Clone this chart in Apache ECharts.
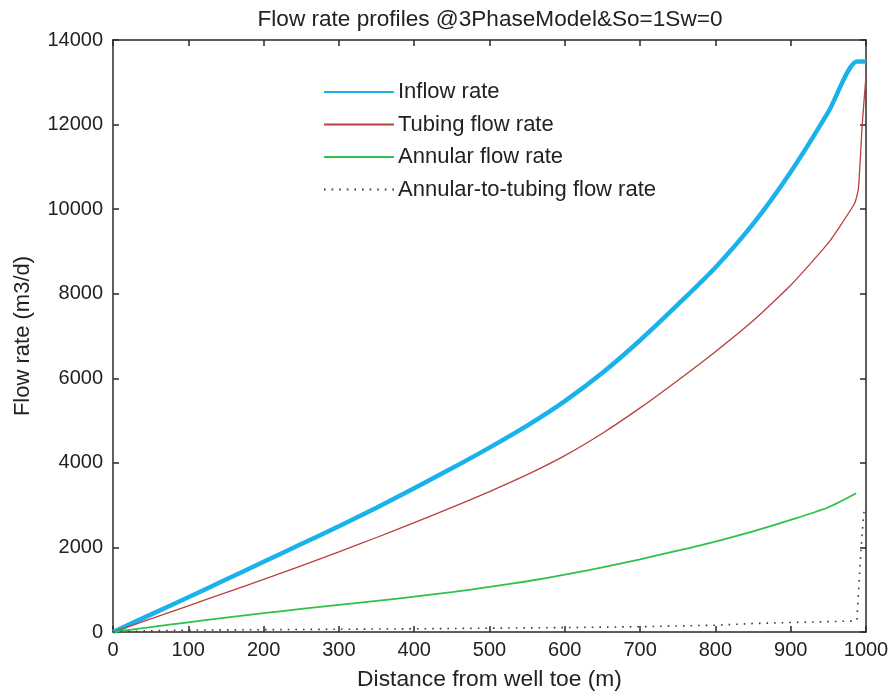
<!DOCTYPE html>
<html>
<head>
<meta charset="utf-8">
<script src="https://cdn.jsdelivr.net/npm/echarts@6/dist/echarts.min.js"></script>
<style>
  html, body { margin: 0; padding: 0; background: #ffffff; }
  #chart { width: 894px; height: 697px; }
</style>
</head>
<body>
<div id="chart"></div>
<script>
// Distance along the well (m) and flow rates (m3/d) for each profile
const inflowDist = [0, 50, 100, 150, 200, 250, 300, 350, 400, 450, 500, 550, 600, 650, 700, 750, 800, 850, 900, 950, 988, 1000];
const inflowRate = [0, 410, 820, 1240, 1660, 2080, 2500, 2940, 3400, 3870, 4360, 4880, 5460, 6130, 6900, 7740, 8620, 9650, 10880, 12300, 13490, 13490];

const tubingDist = [0, 50, 100, 150, 200, 250, 300, 350, 400, 450, 500, 550, 600, 650, 700, 750, 800, 850, 900, 950, 985, 990, 995, 1000];
const tubingRate = [0, 310, 620, 930, 1245, 1565, 1895, 2235, 2585, 2945, 3320, 3720, 4170, 4700, 5300, 5950, 6630, 7360, 8200, 9200, 10140, 10500, 12000, 13150];

const annularDist = [0, 50, 100, 150, 200, 250, 300, 350, 400, 450, 500, 550, 600, 650, 700, 750, 800, 850, 900, 950, 987];
const annularRate = [0, 115, 230, 340, 445, 545, 640, 735, 835, 945, 1065, 1200, 1355, 1530, 1720, 1925, 2140, 2380, 2650, 2950, 3280];

const transferDist = [0, 50, 100, 200, 300, 400, 500, 600, 700, 800, 850, 900, 950, 985, 988, 990, 992, 994, 996, 998];
const transferRate = [0, 30, 45, 55, 65, 75, 90, 105, 125, 160, 200, 225, 245, 260, 280, 950, 1550, 2100, 2580, 2960];

const xTicks = { min: 0, max: 1000, interval: 100 };
const yTicks = { min: 0, max: 14000, interval: 2000 };

const seriesNames = ['Inflow rate', 'Tubing flow rate', 'Annular flow rate', 'Annular-to-tubing flow rate'];

function pairs(xs, ys) {
  return xs.map((x, i) => [x, ys[i]]);
}

const FONT = '"Liberation Sans", Arial, sans-serif';
const TEXT = '#222222';
const AXIS = '#2a2a2a';

const chart = echarts.init(document.getElementById('chart'));

const baseAxis = {
  type: 'value',
  axisLine: { show: true, onZero: false, lineStyle: { color: AXIS, width: 1.5 } },
  axisTick: { show: true, inside: true, length: 6, lineStyle: { color: AXIS, width: 1.5 } },
  splitLine: { show: false },
  axisLabel: { color: TEXT, fontFamily: FONT, fontSize: 20, formatter: v => String(v) }
};

chart.setOption({
  backgroundColor: '#ffffff',
  animation: false,
  title: {
    text: 'Flow rate profiles @3PhaseModel&So=1Sw=0',
    left: 485,
    textAlign: 'center',
    top: 3,
    textStyle: { color: TEXT, fontFamily: FONT, fontSize: 22.6, fontWeight: 'normal' }
  },
  grid: { left: 113, right: 28, top: 40, bottom: 65 },
  legend: {
    data: seriesNames,
    orient: 'vertical',
    left: 323,
    top: 81,
    padding: 0,
    itemWidth: 70,
    itemHeight: 20,
    itemGap: 10.5,
    itemStyle: { opacity: 0 },
    textStyle: { color: TEXT, fontFamily: FONT, fontSize: 22, padding: [0, 0, 0, -1] }
  },
  xAxis: [
    Object.assign({}, baseAxis, {
      position: 'bottom',
      min: xTicks.min, max: xTicks.max, interval: xTicks.interval,
      name: 'Distance from well toe (m)',
      nameLocation: 'middle',
      nameGap: 36,
      nameTextStyle: { color: TEXT, fontFamily: FONT, fontSize: 22.8 },
      axisLabel: Object.assign({}, baseAxis.axisLabel, { margin: 8 })
    }),
    Object.assign({}, baseAxis, {
      position: 'top',
      min: xTicks.min, max: xTicks.max, interval: xTicks.interval,
      axisLabel: { show: false }
    })
  ],
  yAxis: [
    Object.assign({}, baseAxis, {
      position: 'left',
      min: yTicks.min, max: yTicks.max, interval: yTicks.interval,
      name: 'Flow rate (m3/d)',
      nameLocation: 'middle',
      nameGap: 79,
      nameTextStyle: { color: TEXT, fontFamily: FONT, fontSize: 22 },
      axisLabel: Object.assign({}, baseAxis.axisLabel, { margin: 10 })
    }),
    Object.assign({}, baseAxis, {
      position: 'right',
      min: yTicks.min, max: yTicks.max, interval: yTicks.interval,
      axisLabel: { show: false }
    })
  ],
  series: [
    {
      name: seriesNames[0], type: 'line', symbol: 'none', smooth: 0.25,
      data: pairs(inflowDist, inflowRate),
      lineStyle: { color: '#19b2ea', width: 4.5 },
      itemStyle: { color: '#19b2ea' }
    },
    {
      name: seriesNames[1], type: 'line', symbol: 'none', smooth: 0.15,
      data: pairs(tubingDist, tubingRate),
      lineStyle: { color: '#b9403c', width: 1.3 },
      itemStyle: { color: '#b9403c' }
    },
    {
      name: seriesNames[2], type: 'line', symbol: 'none', smooth: 0.25,
      data: pairs(annularDist, annularRate),
      lineStyle: { color: '#2ec24a', width: 1.8 },
      itemStyle: { color: '#2ec24a' }
    },
    {
      name: seriesNames[3], type: 'line', symbol: 'none', smooth: false,
      data: pairs(transferDist, transferRate),
      lineStyle: { color: '#3a3a3a', width: 1.6, type: [1.6, 6] },
      itemStyle: { color: '#3a3a3a' }
    }
  ]
});
</script>
</body>
</html>
